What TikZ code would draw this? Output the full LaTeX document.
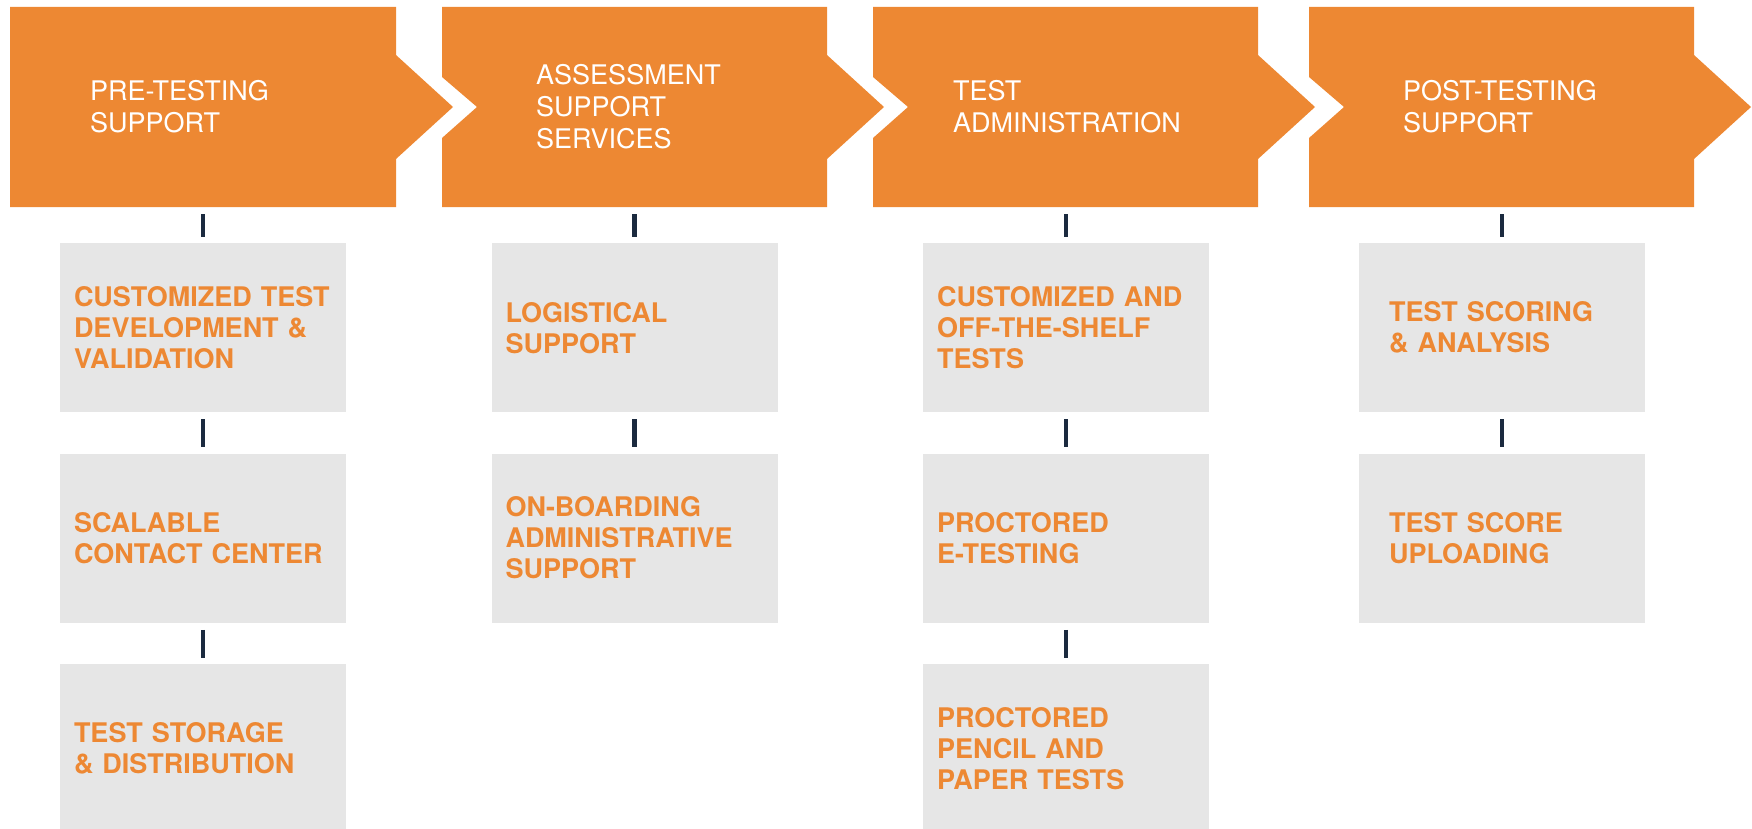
\documentclass[tikz,border=0pt]{standalone}
\usepackage{fontspec}
\setmainfont{TeX Gyre Heros}
\usetikzlibrary{positioning,calc}
\definecolor{stageorange}{HTML}{ED8833}
\definecolor{cellgray}{HTML}{E6E6E6}
\definecolor{barnavy}{HTML}{1B2A3F}

\begin{document}
\begin{tikzpicture}[x=1pt, y=-1pt, line join=round,
  stage/.style={fill=stageorange},
  stagetext/.style={anchor=west, inner sep=0pt, align=left, text=white, font=\fontsize{27}{32}\selectfont},
  cell/.style={fill=cellgray, text=stageorange, font=\bfseries\fontsize{27}{31}\selectfont, minimum height=169pt, text width=258pt, inner xsep=14pt, align=left},
  widecell/.style={cell, text width=226pt, inner xsep=30pt},
  bar/.style={draw=barnavy, line width=4.5pt, shorten <=7pt, shorten >=6pt},
  node distance=41pt]
\useasboundingbox (0,0) rectangle (1752,829);
% stage arrows
\fill[stage] (10,7) -- (396,7) -- (396,55) -- (453,107) -- (396,159) -- (396,207) -- (10,207) -- cycle;
\fill[stage] (442,7) -- (827,7) -- (827,55) -- (884,107) -- (827,159) -- (827,207) -- (442,207) -- (442,138) -- (477,107) -- (442,77) -- cycle;
\fill[stage] (873,7) -- (1258,7) -- (1258,55) -- (1315,107) -- (1258,159) -- (1258,207) -- (873,207) -- (873,138) -- (908,107) -- (873,77) -- cycle;
\fill[stage] (1309,7) -- (1694,7) -- (1694,55) -- (1751,107) -- (1694,159) -- (1694,207) -- (1309,207) -- (1309,138) -- (1344,107) -- (1309,77) -- cycle;
\node[stagetext] (s1) at (90,107) {PRE-TESTING\\SUPPORT};
\node[stagetext] (s2) at (536,107) {ASSESSMENT\\SUPPORT\\SERVICES};
\node[stagetext] (s3) at (953,107) {TEST\\ADMINISTRATION};
\node[stagetext] (s4) at (1403,107) {POST-TESTING\\SUPPORT};
\coordinate (f1) at (203,207);
\coordinate (f2) at (634.5,207);
\coordinate (f3) at (1066,207);
\coordinate (f4) at (1502,207);
% service cells
\node[cell, below=36pt of f1] (b11) {CUSTOMIZED TEST\\DEVELOPMENT \&\\VALIDATION};
\node[cell, below=of b11] (b12) {SCALABLE\\CONTACT CENTER};
\node[cell, below=of b12] (b13) {TEST STORAGE\\\& DISTRIBUTION};
\node[cell, below=36pt of f2] (b21) {LOGISTICAL\\SUPPORT};
\node[cell, below=of b21] (b22) {ON-BOARDING\\ADMINISTRATIVE\\SUPPORT};
\node[cell, below=36pt of f3] (b31) {CUSTOMIZED AND\\OFF-THE-SHELF\\TESTS};
\node[cell, below=of b31] (b32) {PROCTORED\\E-TESTING};
\node[cell, below=of b32] (b33) {PROCTORED\\PENCIL AND\\PAPER TESTS};
\node[widecell, below=36pt of f4] (b41) {TEST SCORING\\\& ANALYSIS};
\node[widecell, below=of b41] (b42) {TEST SCORE\\UPLOADING};
\draw[bar] (f1) -- (b11);
\draw[bar] (b11) -- (b12);
\draw[bar] (b12) -- (b13);
\draw[bar] (f2) -- (b21);
\draw[bar] (b21) -- (b22);
\draw[bar] (f3) -- (b31);
\draw[bar] (b31) -- (b32);
\draw[bar] (b32) -- (b33);
\draw[bar] (f4) -- (b41);
\draw[bar] (b41) -- (b42);
\end{tikzpicture}
\end{document}
